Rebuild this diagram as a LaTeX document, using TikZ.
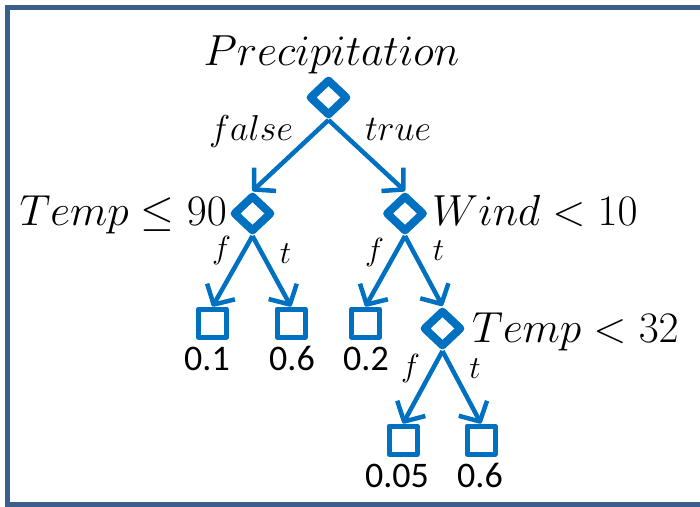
\RequirePackage{fix-cm}
\documentclass[tikz,border=0pt]{standalone}
\usepackage{fontspec}
\newfontfamily\calibri{Carlito}
\usetikzlibrary{shapes.geometric,arrows.meta}
\definecolor{tblue}{RGB}{0,112,192}
\definecolor{frameblue}{RGB}{58,95,139}
\tikzset{
  dec/.style={diamond, draw=tblue, line width=8pt, line join=round,
    minimum width=39pt, minimum height=37pt, inner sep=0pt},
  leaf/.style={rectangle, draw=tblue, line width=5pt, line join=round,
    minimum size=28pt, inner sep=0pt},
  arr/.style={draw=tblue, line width=4.5pt,
    -{Straight Barb[length=15pt,width=32pt,line join=round]}},
  cond/.style={font=\fontsize{43.5}{47}\selectfont, inner sep=0pt},
  brl/.style={font=\fontsize{36}{40}\selectfont, inner sep=0pt, anchor=base},
  ftl/.style={font=\fontsize{32}{36}\selectfont, inner sep=0pt, anchor=base},
  val/.style={font=\calibri\fontsize{36}{40}\selectfont, inner sep=0pt, anchor=base},
}
\begin{document}
\begin{tikzpicture}[x=1pt,y=-1pt]
\useasboundingbox (0,0) rectangle (700,506);
\draw[frameblue, line width=5pt] (700,7.5) -- (7.5,7.5) -- (7.5,504.5) -- (700,504.5);

% decision nodes
\node[dec] (root) at (328.5,97.5) {};
\node[dec] (tl) at (252.5,213.5) {};
\node[dec] (tr) at (405,213.5) {};
\node[dec] (tt) at (442.5,328.5) {};

% leaves
\node[leaf] (b1) at (212.5,323) {};
\node[leaf] (b2) at (291,323) {};
\node[leaf] (b3) at (365.5,323) {};
\node[leaf] (b4) at (403,440) {};
\node[leaf] (b5) at (481,440) {};

% condition texts
\node[cond, anchor=base] (tp) at (331.5,65) {$Precipitation$};
\node[cond, anchor=base east] (tlt) at (227,225) {$Temp\leq 90$};
\node[cond, anchor=base west] (trt) at (432,225) {$Wind<10$};
\node[cond, anchor=base west] (ttt) at (472,342) {$Temp<32$};

% connectors
\draw[arr] (root.south) -- (tl.north);
\draw[arr] (root.south) -- (tr.north);
\draw[arr] (tl.south) -- (b1.north);
\draw[arr] (tl.south) -- (b2.north);
\draw[arr] (tr.south) -- (b3.north);
\draw[arr] (tr.south) -- (tt.north);
\draw[arr] (tt.south) -- (b4.north);
\draw[arr] (tt.south) -- (b5.north);

% branch labels
\node[brl] (lf) at (251,140) {$false$};
\node[brl] (lt) at (398,140) {$true$};
\node[ftl] (l1f) at (221.5,258) {$f$};
\node[ftl] (l1t) at (285.5,263) {$t$};
\node[ftl] (l2f) at (374.5,260) {$f$};
\node[ftl] (l2t) at (438.5,260) {$t$};
\node[ftl] (l3f) at (410.5,376) {$f$};
\node[ftl] (l3t) at (475,378) {$t$};

% values
\node[val] (v1) at (207,370) {0.1};
\node[val] (v2) at (292,370) {0.6};
\node[val] (v3) at (366,370) {0.2};
\node[val] (v4) at (397,487) {0.05};
\node[val] (v5) at (480,487) {0.6};
\end{tikzpicture}
\end{document}
